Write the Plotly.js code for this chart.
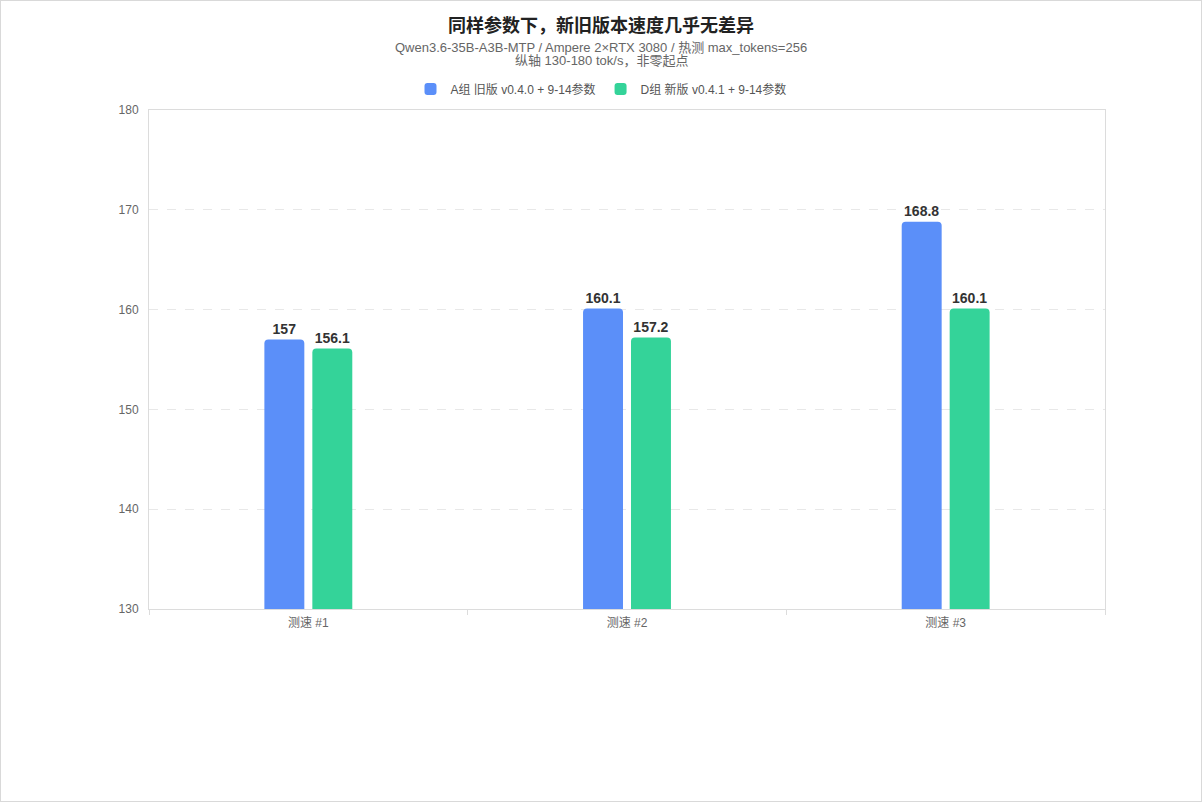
<!DOCTYPE html>
<html>
<head>
<meta charset="utf-8">
<script src="https://cdn.plot.ly/plotly-3.0.1.min.js"></script>
<style>
  html, body { margin: 0; padding: 0; background: #fff; }
  #chart { width: 1200px; height: 800px; border: 1px solid #d9d9d9; }
</style>
</head>
<body>
<div id="chart"></div>
<script>
const categories = ["测速 #1", "测速 #2", "测速 #3"];
const seriesNames = ["A组 旧版 v0.4.0 + 9-14参数", "D组 新版 v0.4.1 + 9-14参数"];
const oldValues = [157, 160.1, 168.8];
const newValues = [156.1, 157.2, 160.1];
const colors = ["#5b8ff9", "#34d399"];

const font = "Liberation Sans, Arial, Noto Sans CJK SC, sans-serif";
// paper x that lands on the page centre (plot area is offset to the right)
const pageCentre = (600 - 148) / 956;

function makeTrace(name, values, color) {
  return {
    type: "bar",
    name: name,
    x: categories,
    y: values,
    marker: { color: color, cornerradius: 4 },
    text: values.map(v => String(v)),
    textposition: "outside",
    textfont: { family: font, size: 14, color: "#333", weight: "bold" },
    cliponaxis: false,
    hoverinfo: "x+y+name"
  };
}

const data = [
  makeTrace(seriesNames[0], oldValues, colors[0]),
  makeTrace(seriesNames[1], newValues, colors[1])
];

const layout = {
  width: 1200,
  height: 800,
  paper_bgcolor: "#fff",
  plot_bgcolor: "#fff",
  font: { family: font, color: "#666", size: 12 },
  margin: { l: 148, r: 96, t: 109, b: 192 },
  barmode: "group",
  bargap: 0.699,
  bargroupgap: 0.167,
  title: {
    text: "<b>同样参数下，新旧版本速度几乎无差异</b>",
    font: { family: font, size: 18, color: "#222" },
    x: 0.5, xanchor: "center",
    y: 1 - 25 / 800, yanchor: "middle", yref: "container"
  },
  annotations: [
    {
      text: "Qwen3.6-35B-A3B-MTP / Ampere 2×RTX 3080 / 热测 max_tokens=256",
      xref: "paper", yref: "paper", x: pageCentre, y: (607 - 47) / 498,
      xanchor: "center", yanchor: "middle", showarrow: false,
      font: { family: font, size: 13, color: "#666" }
    },
    {
      text: "纵轴 130-180 tok/s，非零起点",
      xref: "paper", yref: "paper", x: pageCentre, y: (607 - 60) / 498,
      xanchor: "center", yanchor: "middle", showarrow: false,
      font: { family: font, size: 13, color: "#666" }
    }
  ],
  legend: {
    orientation: "h",
    x: pageCentre, xanchor: "center",
    y: (607 - 88) / 498, yanchor: "middle",
    font: { family: font, size: 12, color: "#555" },
    itemclick: false
  },
  xaxis: {
    type: "category",
    showline: true, linecolor: "#dcdcdc", linewidth: 1, mirror: true,
    ticks: "outside", tickson: "boundaries", ticklen: 5, tickcolor: "#dcdcdc",
    ticklabelstandoff: 3,
    showgrid: false, zeroline: false,
    tickfont: { family: font, size: 12, color: "#666" }
  },
  yaxis: {
    range: [130, 180],
    dtick: 10,
    showline: true, linecolor: "#dcdcdc", linewidth: 1, mirror: true,
    ticks: "", ticklabelstandoff: 7,
    showgrid: true, gridcolor: "#e8e8e8", griddash: "dash",
    zeroline: false,
    tickfont: { family: font, size: 12, color: "#666" }
  }
};

Plotly.newPlot("chart", data, layout, { displayModeBar: false, responsive: false });
</script>
</body>
</html>
